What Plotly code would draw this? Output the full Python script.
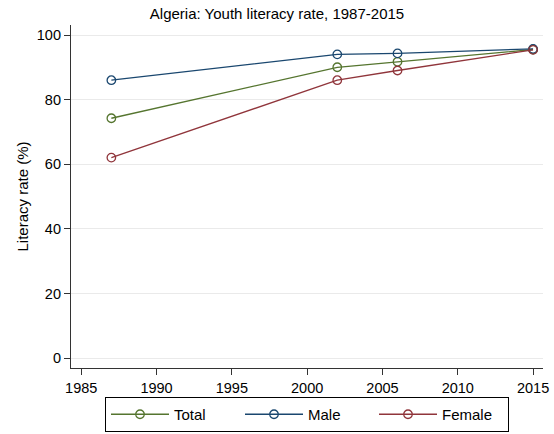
import plotly.graph_objects as go

years = [1987, 2002, 2006, 2015]
total = [74.3, 90.1, 91.8, 95.6]
male = [86.1, 94.1, 94.4, 95.8]
female = [62.1, 86.1, 89.1, 95.5]
series_names = ["Total", "Male", "Female"]
colors = ["#55752f", "#1a476f", "#90353b"]
x_ticks = [1985, 1990, 1995, 2000, 2005, 2010, 2015]
y_ticks = [0, 20, 40, 60, 80, 100]

fig = go.Figure()
for name, vals, c in zip(series_names, [total, male, female], colors):
    fig.add_trace(go.Scatter(
        x=years, y=vals, name=name, mode="lines+markers",
        line=dict(color=c, width=1.3),
        marker=dict(symbol="circle-open", size=8.5, color=c, line=dict(width=1.3, color=c)),
    ))

font = "Liberation Sans, Arial, sans-serif"
fig.update_layout(
    width=554, height=434,
    margin=dict(l=71, r=11, t=25, b=66, autoexpand=False),
    paper_bgcolor="white", plot_bgcolor="white",
    font=dict(family=font, size=14.5, color="black"),
    title=dict(text="Algeria: Youth literacy rate, 1987-2015", x=0.5, xref="container", xanchor="center",
               y=1 - 14 / 434, yref="container", yanchor="middle", font=dict(size=15, color="black")),
    xaxis=dict(range=[1984.32, 2015.66], tickvals=x_ticks, showgrid=False,
               showline=True, linecolor="#333333", linewidth=1.2,
               ticks="outside", ticklen=6, tickcolor="#333333", zeroline=False),
    yaxis=dict(range=[-3.1, 103.2], tickvals=y_ticks, showgrid=True, gridcolor="#eaeaea",
               showline=True, linecolor="#333333", linewidth=1.2,
               ticks="outside", ticklen=6, tickcolor="#333333", zeroline=False,
               title=dict(text="Literacy rate (%)", font=dict(size=15), standoff=4)),
    legend=dict(orientation="h", x=(105 - 71) / 472, xanchor="left", y=-(432 - 368) / 343, yanchor="bottom",
                bordercolor="black", borderwidth=1, entrywidth=61, entrywidthmode="pixels",
                itemwidth=58, font=dict(size=15)),
    showlegend=True,
)
fig.write_html("out.html", config={"displayModeBar": False},
               post_script="document.body.style.margin='0';")
